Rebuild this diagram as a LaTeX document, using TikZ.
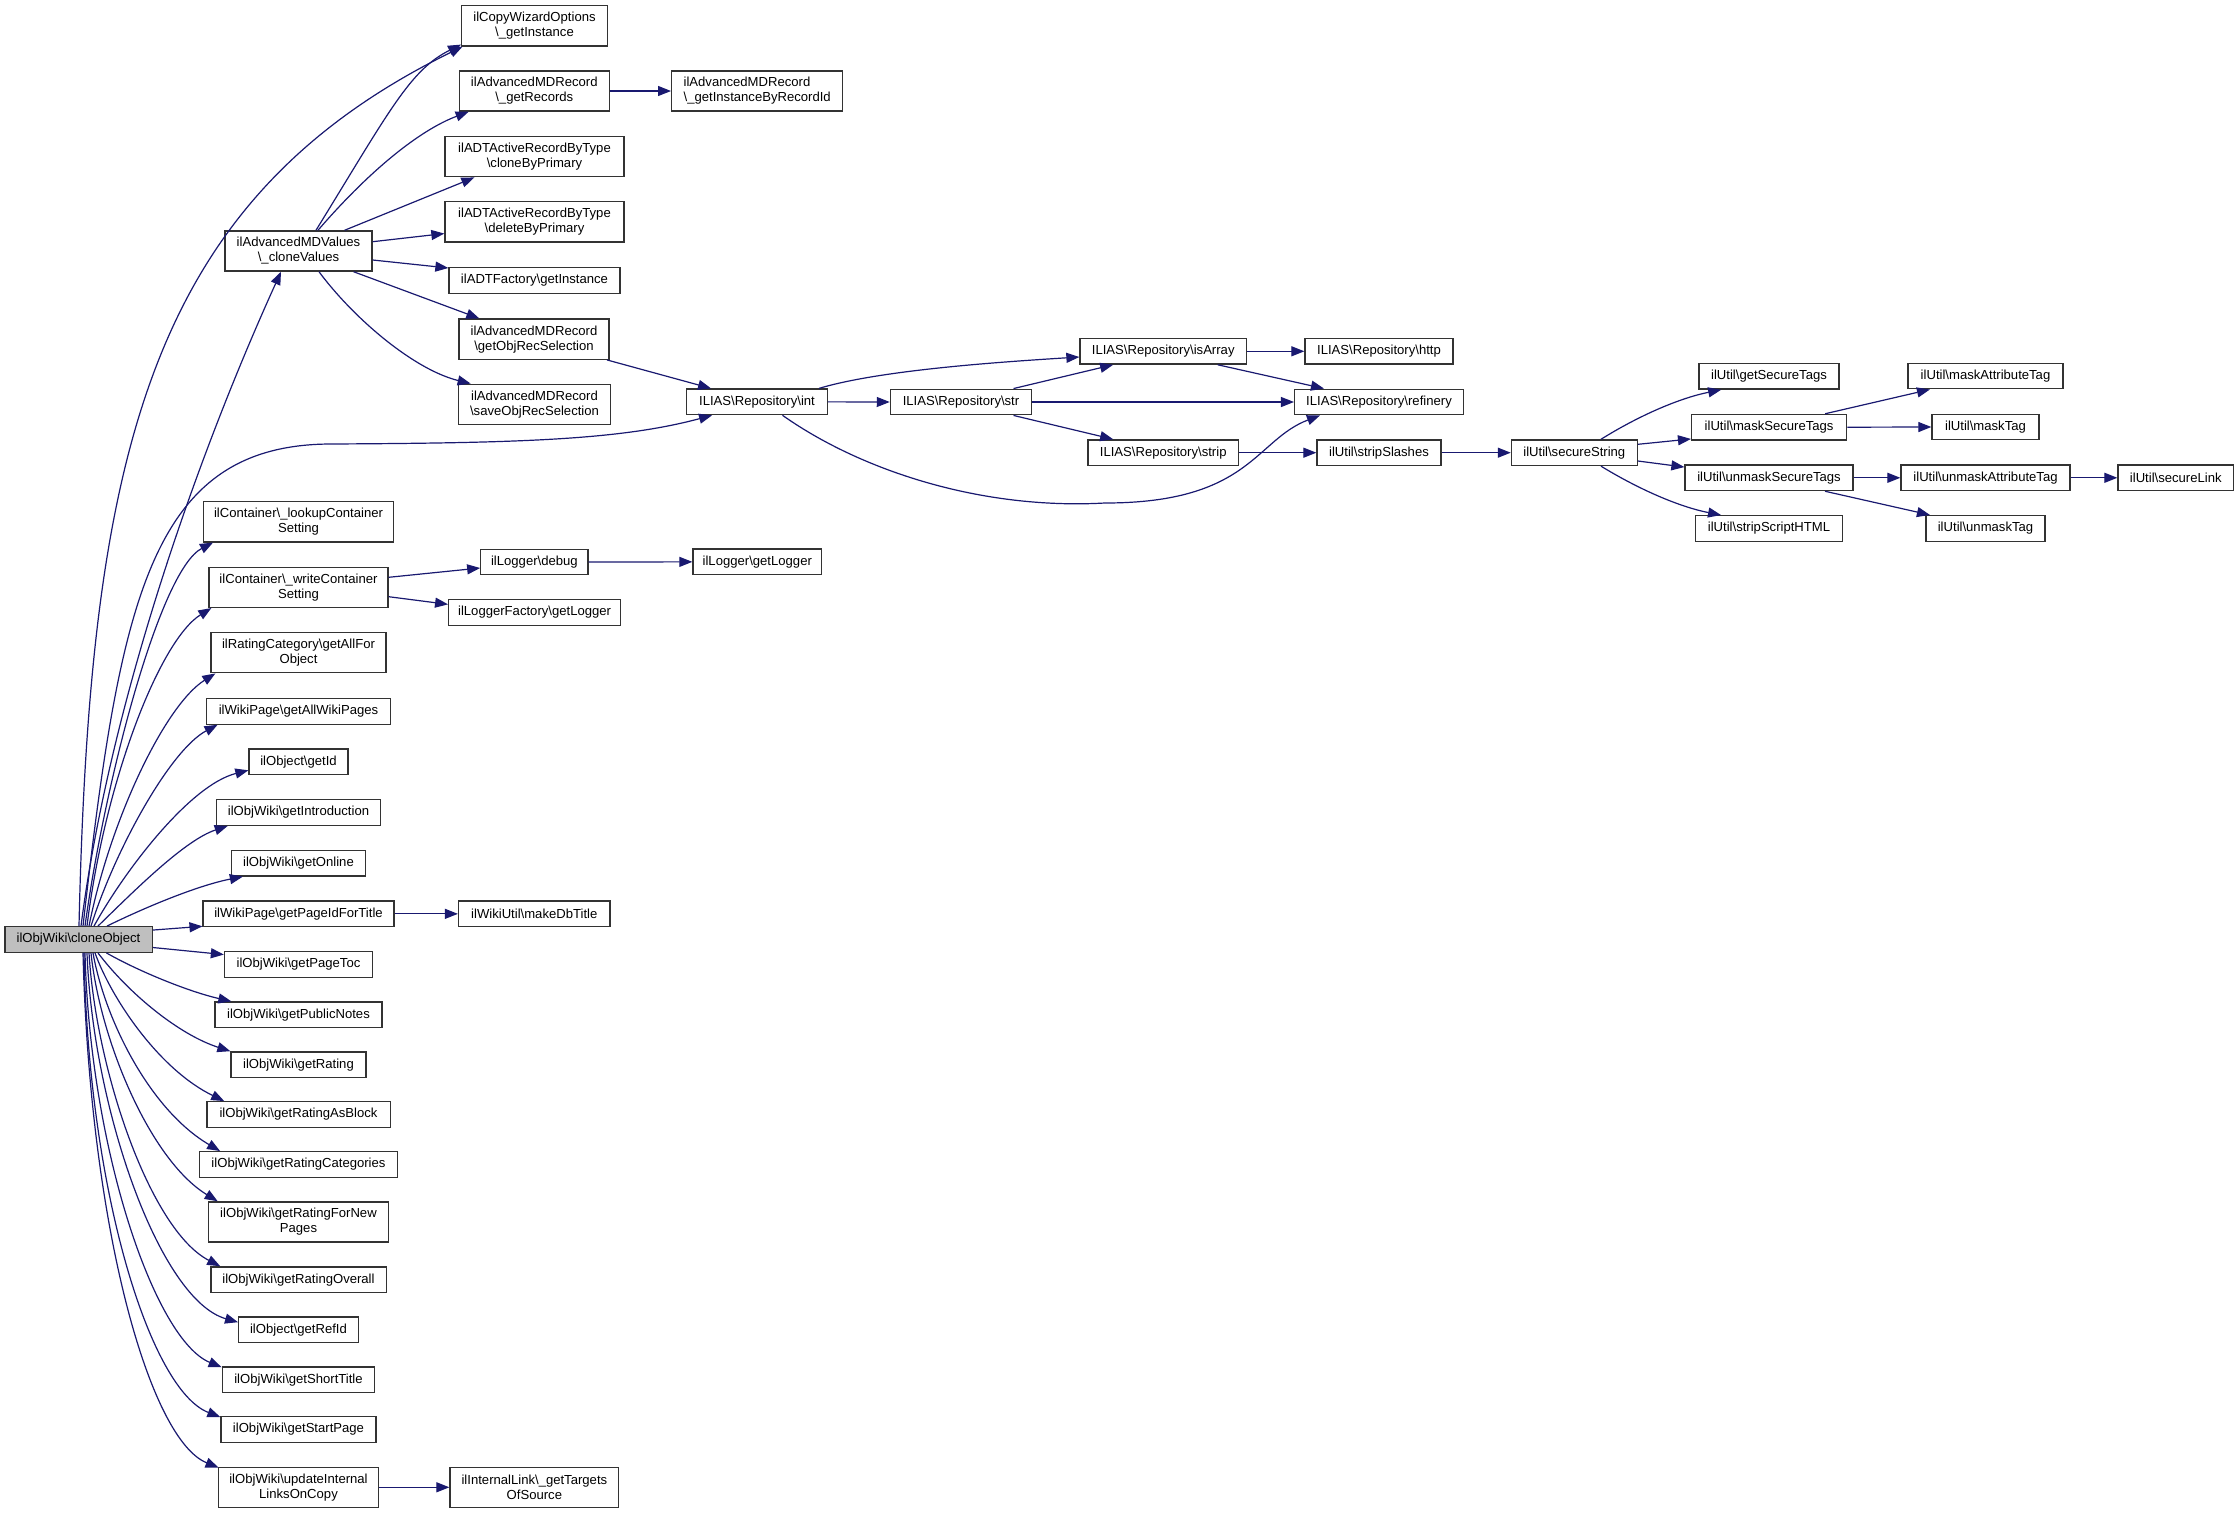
\documentclass[tikz,border=0pt]{standalone}
\usepackage{fontspec}
\setmainfont{Liberation Sans}
\usetikzlibrary{arrows.meta,calc}
\definecolor{edgeblue}{HTML}{191970}
\definecolor{boxline}{HTML}{333333}
\definecolor{rootfill}{HTML}{BFBFBF}
\begin{document}
\begin{tikzpicture}[x=1pt,y=-1pt,
  nd/.style={draw=boxline,line width=1.3pt,fill=white,inner sep=0pt,minimum height=25.6pt,align=center,text=black,font=\fontsize{13.1pt}{15pt}\selectfont},
  nd2/.style={nd,minimum height=40.2pt},
  ce/.style={draw=edgeblue,line width=1.2pt,-{Triangle[length=13pt,width=10pt]}}]
\useasboundingbox[fill=white] (0,0) rectangle (2239,1521);
% root
\node[nd,fill=rootfill,minimum width=147.3pt] (cO) at (78.5,939.5) {ilObjWiki\textbackslash cloneObject};
% column 1
\node[nd2,minimum width=147pt] (cv) at (298.5,251) {ilAdvancedMDValues\\\textbackslash\_cloneValues};
\node[nd2,minimum width=189.7pt] (lcs) at (298.5,521.85) {ilContainer\textbackslash\_lookupContainer\\Setting};
\node[nd2,minimum width=179pt] (wcs) at (298.5,587.3) {ilContainer\textbackslash\_writeContainer\\Setting};
\node[nd2,minimum width=175pt] (gafo) at (298.5,652.7) {ilRatingCategory\textbackslash getAllFor\\Object};
\node[nd,minimum width=184.6pt] (gawp) at (298.5,711.35) {ilWikiPage\textbackslash getAllWikiPages};
\node[nd,minimum width=99pt] (getid) at (298.5,761.85) {ilObject\textbackslash getId};
\node[nd,minimum width=164.3pt] (gi) at (298.5,812.5) {ilObjWiki\textbackslash getIntroduction};
\node[nd,minimum width=134pt] (go) at (298.5,863.15) {ilObjWiki\textbackslash getOnline};
\node[nd,minimum width=190.75pt] (gpft) at (298.5,913.85) {ilWikiPage\textbackslash getPageIdForTitle};
\node[nd,minimum width=148pt] (gpt) at (298.5,964.5) {ilObjWiki\textbackslash getPageToc};
\node[nd,minimum width=167pt] (gpn) at (298.5,1014.8) {ilObjWiki\textbackslash getPublicNotes};
\node[nd,minimum width=135pt] (gr2) at (298.5,1064.65) {ilObjWiki\textbackslash getRating};
\node[nd,minimum width=183.3pt] (grab) at (298.5,1114.5) {ilObjWiki\textbackslash getRatingAsBlock};
\node[nd,minimum width=197.5pt] (grc) at (298.5,1164.5) {ilObjWiki\textbackslash getRatingCategories};
\node[nd2,minimum width=180.3pt] (grfnp) at (298.5,1222) {ilObjWiki\textbackslash getRatingForNew\\Pages};
\node[nd,minimum width=175.3pt] (gro) at (298.5,1279.65) {ilObjWiki\textbackslash getRatingOverall};
\node[nd,minimum width=119.6pt] (gri) at (298.5,1329.65) {ilObject\textbackslash getRefId};
\node[nd,minimum width=152.5pt] (gstt) at (298.5,1379.65) {ilObjWiki\textbackslash getShortTitle};
\node[nd,minimum width=155pt] (gsp) at (298.5,1429.5) {ilObjWiki\textbackslash getStartPage};
\node[nd2,minimum width=160.6pt] (uil) at (298.5,1487.3) {ilObjWiki\textbackslash updateInternal\\LinksOnCopy};
% column 2
\node[nd2,minimum width=145.6pt] (cwo) at (534.5,25.85) {ilCopyWizardOptions\\\textbackslash\_getInstance};
\node[nd2,minimum width=150pt] (gr) at (534.3,91) {ilAdvancedMDRecord\\\textbackslash\_getRecords};
\node[nd2,minimum width=179pt] (cbp) at (534.5,156.7) {ilADTActiveRecordByType\\\textbackslash cloneByPrimary};
\node[nd2,minimum width=179pt] (dbp) at (534.5,221.8) {ilADTActiveRecordByType\\\textbackslash deleteByPrimary};
\node[nd,minimum width=171pt] (adtf) at (534.5,280.5) {ilADTFactory\textbackslash getInstance};
\node[nd2,minimum width=150pt] (gors) at (534,339.2) {ilAdvancedMDRecord\\\textbackslash getObjRecSelection};
\node[nd2,minimum width=152.4pt] (sors) at (534.5,404.3) {ilAdvancedMDRecord\\\textbackslash saveObjRecSelection};
\node[nd,minimum width=107.2pt] (debug) at (534.4,562) {ilLogger\textbackslash debug};
\node[nd,minimum width=171.8pt] (lfgl) at (534.6,612.35) {ilLoggerFactory\textbackslash getLogger};
\node[nd,minimum width=151.5pt] (mdt) at (534.3,913.85) {ilWikiUtil\textbackslash makeDbTitle};
\node[nd2,minimum width=168.75pt] (gtos) at (534.4,1487.3) {ilInternalLink\textbackslash\_getTargets\\OfSource};
% column 3
\node[nd2,minimum width=171pt,align=left] (gibr) at (757.2,91) {ilAdvancedMDRecord\\\textbackslash\_getInstanceByRecordId};
\node[nd,minimum width=140.6pt] (rint) at (757,401.85) {ILIAS\textbackslash Repository\textbackslash int};
\node[nd,minimum width=128.6pt] (lgl) at (757.3,561.85) {ilLogger\textbackslash getLogger};
% repository
\node[nd,minimum width=141.2pt] (rstr) at (961,402) {ILIAS\textbackslash Repository\textbackslash str};
\node[nd,minimum width=166.4pt] (risa) at (1163.2,351.3) {ILIAS\textbackslash Repository\textbackslash isArray};
\node[nd,minimum width=150.4pt] (rstrip) at (1163.2,452.7) {ILIAS\textbackslash Repository\textbackslash strip};
\node[nd,minimum width=148pt] (rhttp) at (1379,351.3) {ILIAS\textbackslash Repository\textbackslash http};
\node[nd,minimum width=168.8pt] (rref) at (1379,402) {ILIAS\textbackslash Repository\textbackslash refinery};
\node[nd,minimum width=124pt] (ss) at (1379,452.7) {ilUtil\textbackslash stripSlashes};
\node[nd,minimum width=125.8pt] (sec) at (1574.3,452.7) {ilUtil\textbackslash secureString};
\node[nd,minimum width=140pt] (gst) at (1769,376.3) {ilUtil\textbackslash getSecureTags};
\node[nd,minimum width=155pt] (mst) at (1769.1,427.2) {ilUtil\textbackslash maskSecureTags};
\node[nd,minimum width=168pt] (umst) at (1769,477.8) {ilUtil\textbackslash unmaskSecureTags};
\node[nd,minimum width=147pt] (ssh) at (1769,528.5) {ilUtil\textbackslash stripScriptHTML};
\node[nd,minimum width=155pt] (mat) at (1985.5,376) {ilUtil\textbackslash maskAttributeTag};
\node[nd,minimum width=107pt] (mt) at (1985.5,427) {ilUtil\textbackslash maskTag};
\node[nd,minimum width=169pt] (umat) at (1985.5,477.8) {ilUtil\textbackslash unmaskAttributeTag};
\node[nd,minimum width=119pt] (umt) at (1985.5,528.4) {ilUtil\textbackslash unmaskTag};
\node[nd,minimum width=115.6pt] (sl) at (2175.8,477.8) {ilUtil\textbackslash secureLink};
% ---- edges from cloneObject (upwards)
\draw[ce] ($(cO.north)+(0.5,0)$) .. controls (90,450) and (150,200) .. ($(cwo.south west)+(1.5,0)$);
\draw[ce] ($(cO.north)+(2.5,0)$) .. controls (110,700) and (200,450) .. ($(cv.south)+(-17.5,0)$);
\draw[ce] ($(cO.north)+(4.5,0)$) .. controls (120,600) and (150,445) .. (330,444) .. controls (520,443) and (620,440) .. ($(rint.south west)+(26,0)$);
\draw[ce] ($(cO.north)+(6.5,0)$) .. controls (105,780) and (160,570) .. ($(lcs.south west)+(10,0)$);
\draw[ce] ($(cO.north)+(8.5,0)$) .. controls (105,780) and (160,640) .. ($(wcs.south west)+(3,0)$);
\draw[ce] ($(cO.north)+(10.5,0)$) .. controls (110,820) and (165,705) .. ($(gafo.south west)+(5,0)$);
\draw[ce] ($(cO.north)+(12.5,0)$) .. controls (115,850) and (170,750) .. ($(gawp.south west)+(12,0)$);
\draw[ce] ($(cO.north)+(15.5,0)$) .. controls (125,870) and (190,785) .. ($(getid.south west)+(0,-5)$);
\draw[ce] ($(cO.north)+(19.5,0)$) .. controls (135,890) and (185,840) .. ($(gi.south west)+(12,0)$);
\draw[ce] ($(cO.north)+(28.5,0)$) .. controls (150,905) and (200,885) .. ($(go.south west)+(12,0)$);
\draw[ce] ($(cO.north east)+(0,4)$) -- ($(gpft.south west)+(0,-1)$);
\draw[ce] ($(cO.east)+(0,8)$) -- ($(gpt.north west)+(0,3.5)$);
% ---- edges from cloneObject (downwards)
\draw[ce] ($(cO.south)+(28,0)$) .. controls (140,972) and (190,992) .. ($(gpn.north west)+(17,0)$);
\draw[ce] ($(cO.south)+(19.5,0)$) .. controls (130,995) and (180,1035) .. ($(gr2.north west)+(0,0)$);
\draw[ce] ($(cO.south)+(16.5,0)$) .. controls (112,1000) and (160,1070) .. ($(grab.north west)+(18,0)$);
\draw[ce] ($(cO.south)+(14.5,0)$) .. controls (105,1020) and (150,1110) .. ($(grc.north west)+(21,0)$);
\draw[ce] ($(cO.south)+(12.5,0)$) .. controls (100,1040) and (150,1160) .. ($(grfnp.north west)+(10,0)$);
\draw[ce] ($(cO.south)+(10.5,0)$) .. controls (96,1070) and (150,1230) .. ($(gro.north west)+(10,0)$);
\draw[ce] ($(cO.south)+(8.5,0)$) .. controls (93,1110) and (160,1300) .. ($(gri.north west)+(0,6)$);
\draw[ce] ($(cO.south)+(6.5,0)$) .. controls (90,1150) and (155,1340) .. ($(gstt.north west)+(0,1)$);
\draw[ce] ($(cO.south)+(5.5,0)$) .. controls (88,1190) and (150,1390) .. ($(gsp.north west)+(0,1)$);
\draw[ce] ($(cO.south)+(4.5,0)$) .. controls (90,1230) and (150,1440) .. ($(uil.north west)+(1,1)$);
% ---- edges from cloneValues
\draw[ce] ($(cv.north)+(17.5,0)$) .. controls (390,110) and (410,70) .. ($(cwo.south west)+(0,-2)$);
\draw[ce] ($(cv.north)+(19.5,0)$) .. controls (370,170) and (420,130) .. ($(gr.south west)+(10,0)$);
\draw[ce] ($(cv.north east)+(-28,0)$) -- ($(cbp.south west)+(30,0)$);
\draw[ce] ($(cv.east)+(0,-9.3)$) -- ($(dbp.south west)+(0,-9)$);
\draw[ce] ($(cv.east)+(0,9)$) -- ($(adtf.west)+(0,-12.5)$);
\draw[ce] ($(cv.south east)+(-19,0)$) -- ($(gors.north west)+(21,0)$);
\draw[ce] ($(cv.south)+(20.5,0)$) .. controls (355,320) and (415,370) .. ($(sors.north west)+(13,0)$);
\draw[ce] (gr.east) -- (gibr.west);
\draw[ce] ($(gors.south east)+(-2.6,0)$) -- ($(rint.north west)+(25,0)$);
% ---- repository
\draw[ce] ($(rint.north east)+(-9,0)$) .. controls (880,370) and (1000,362) .. ($(risa.west)+(0,5.7)$);
\draw[ce] (rint.east) -- (rstr.west);
\draw[ce] ($(rint.south)+(25.5,0)$) .. controls (860,470) and (980,510) .. (1105,503) .. controls (1250,503) and (1255,440) .. ($(rref.south west)+(26,0)$);
\draw[ce] ($(rstr.north east)+(-18.7,0)$) -- ($(risa.south west)+(33.8,0)$);
\draw[ce] (rstr.east) -- (rref.west);
\draw[ce] ($(rstr.south east)+(-18.7,0)$) -- ($(rstrip.north west)+(25.8,0)$);
\draw[ce] (risa.east) -- (rhttp.west);
\draw[ce] ($(risa.south east)+(-29.4,0)$) -- ($(rref.north west)+(30,0)$);
\draw[ce] (rstrip.east) -- (ss.west);
\draw[ce] (ss.east) -- (sec.west);
% ---- ilUtil
\draw[ce] ($(sec.north)+(26.7,0)$) .. controls (1640,415) and (1680,398) .. ($(gst.south west)+(22.8,0)$);
\draw[ce] ($(sec.east)+(0,-8.4)$) -- ($(mst.south west)+(0,-1.7)$);
\draw[ce] ($(sec.east)+(0,8.3)$) -- ($(umst.north west)+(0,2.7)$);
\draw[ce] ($(sec.south)+(26.7,0)$) .. controls (1640,490) and (1680,507) .. ($(ssh.north west)+(26.2,0)$);
\draw[ce] ($(mst.north)+(56,0)$) -- ($(mat.south west)+(22.6,0)$);
\draw[ce] (mst.east) -- (mt.west);
\draw[ce] (umst.east) -- (umat.west);
\draw[ce] ($(umst.south)+(56,0)$) -- ($(umt.north west)+(4.6,0)$);
\draw[ce] (umat.east) -- (sl.west);
% ---- others
\draw[ce] ($(wcs.east)+(0,-10)$) -- ($(debug.west)+(0,6)$);
\draw[ce] ($(wcs.east)+(0,9.4)$) -- ($(lfgl.west)+(0,-8)$);
\draw[ce] (debug.east) -- (lgl.west);
\draw[ce] (gpft.east) -- (mdt.west);
\draw[ce] (uil.east) -- (gtos.west);
\end{tikzpicture}
\end{document}
